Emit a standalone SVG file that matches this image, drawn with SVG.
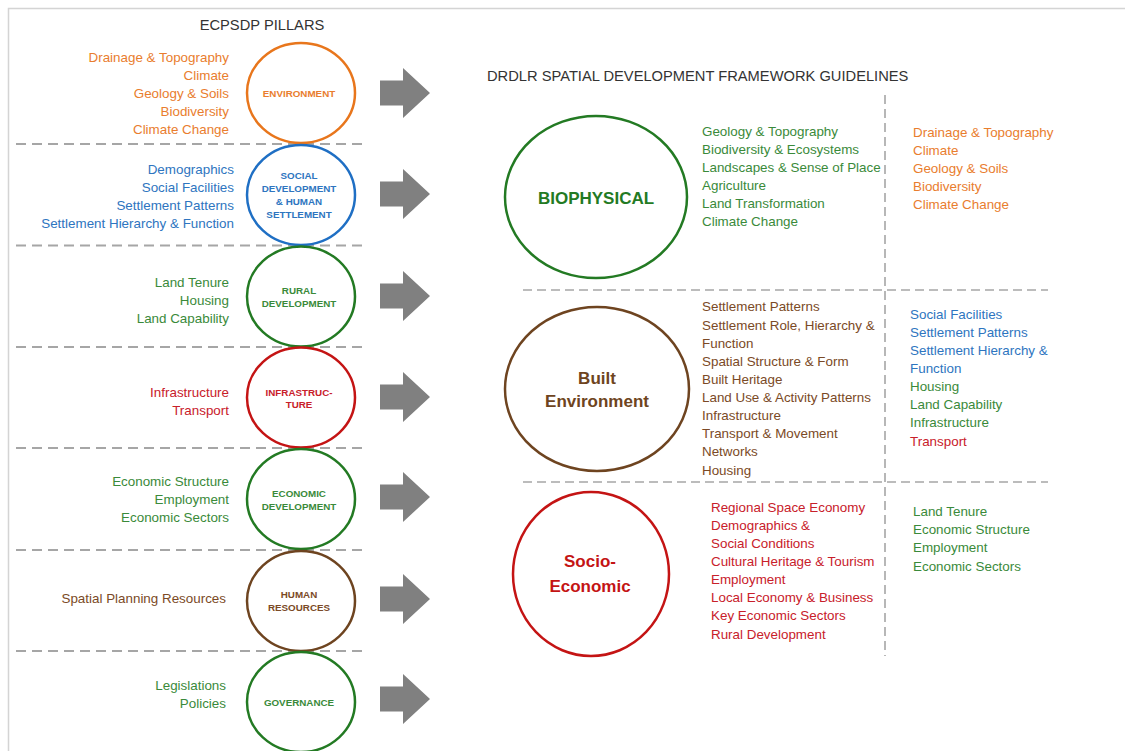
<svg xmlns="http://www.w3.org/2000/svg" width="1125" height="751" viewBox="0 0 1125 751">
  <defs>
    <style>
      text { font-family: "Liberation Sans", Arial, sans-serif; }
      .item { font-size: 13.4px; }
      .r { text-anchor: end; }
      .pill { font-size: 9.8px; font-weight: bold; text-anchor: middle; }
      .big { font-size: 17px; font-weight: bold; text-anchor: middle; }
      .head { font-size: 14.7px; fill: #333333; }
      .ring { fill: none; stroke-width: 2.5; }
      .sep { stroke: #a6a6a6; stroke-width: 2; stroke-dasharray: 10 6; fill: none; }
      .sep2 { stroke: #a6a6a6; stroke-width: 1.6; stroke-dasharray: 9 5; fill: none; }
      .arrow { fill: #808080; }
      .or { fill: #e97d2e; } .orS { stroke: #e8761c; }
      .bl { fill: #2e75c0; } .blS { stroke: #1f6fc4; }
      .gr { fill: #3a8a3a; } .grS { stroke: #237a23; }
      .rd { fill: #c8202a; } .rdS { stroke: #c41414; }
      .br { fill: #7b4a26; } .brS { stroke: #6e4420; }
    </style>
    <path id="bigArrow" d="M0,-12.5 H23 V-25 L50,0 L23,25 V12.5 H0 Z"/>
  </defs>

  <rect x="0" y="0" width="1125" height="751" fill="#ffffff"/>
  <!-- frame -->
  <path d="M8.5,751 V8.5 H1125" fill="none" stroke="#d4d4d4" stroke-width="1.5"/>

  <!-- headings -->
  <text class="head" x="262" y="30" text-anchor="middle" font-size="15.6">ECPSDP PILLARS</text>
  <text class="head" x="487" y="81">DRDLR SPATIAL DEVELOPMENT FRAMEWORK GUIDELINES</text>

  <!-- separators -->
  <g id="separators">
    <line class="sep" x1="16" y1="144" x2="363" y2="144"/>
    <line class="sep" x1="16" y1="245.5" x2="363" y2="245.5"/>
    <line class="sep" x1="16" y1="347" x2="363" y2="347"/>
    <line class="sep" x1="16" y1="448" x2="363" y2="448"/>
    <line class="sep" x1="16" y1="550" x2="363" y2="550"/>
    <line class="sep" x1="16" y1="651" x2="363" y2="651"/>
    <line class="sep2" x1="885" y1="95" x2="885" y2="656"/>
    <line class="sep2" x1="523" y1="290" x2="1048" y2="290"/>
    <line class="sep2" x1="523" y1="482" x2="1048" y2="482"/>
  </g>

  <!-- pillar nodes -->
  <g id="environment">
    <ellipse class="ring orS" cx="301" cy="93" rx="54" ry="50"/>
    <text class="pill or" x="299" y="96.5">ENVIRONMENT</text>
    <g class="item or r">
      <text x="229" y="62">Drainage &amp; Topography</text>
      <text x="229" y="80">Climate</text>
      <text x="229" y="98">Geology &amp; Soils</text>
      <text x="229" y="116">Biodiversity</text>
      <text x="229" y="134">Climate Change</text>
    </g>
  </g>

  <g id="social">
    <ellipse class="ring blS" cx="301" cy="195" rx="54" ry="50"/>
    <g class="pill bl">
      <text x="299" y="178.5">SOCIAL</text>
      <text x="299" y="191.5">DEVELOPMENT</text>
      <text x="299" y="204.5">&amp; HUMAN</text>
      <text x="299" y="217.5">SETTLEMENT</text>
    </g>
    <g class="item bl r">
      <text x="234" y="174">Demographics</text>
      <text x="234" y="192">Social Facilities</text>
      <text x="234" y="210">Settlement Patterns</text>
      <text x="234" y="228">Settlement Hierarchy &amp; Function</text>
    </g>
  </g>

  <g id="rural">
    <ellipse class="ring grS" cx="301" cy="296.5" rx="54" ry="50"/>
    <g class="pill gr">
      <text x="299" y="293.5">RURAL</text>
      <text x="299" y="306.5">DEVELOPMENT</text>
    </g>
    <g class="item gr r">
      <text x="229" y="287">Land Tenure</text>
      <text x="229" y="305">Housing</text>
      <text x="229" y="323">Land Capability</text>
    </g>
  </g>

  <g id="infrastructure">
    <ellipse class="ring rdS" cx="301" cy="397.5" rx="54" ry="50"/>
    <g class="pill rd">
      <text x="299" y="395.5">INFRASTRUC-</text>
      <text x="299" y="408">TURE</text>
    </g>
    <g class="item rd r">
      <text x="229" y="397">Infrastructure</text>
      <text x="229" y="415">Transport</text>
    </g>
  </g>

  <g id="economic">
    <ellipse class="ring grS" cx="301" cy="499" rx="54" ry="50"/>
    <g class="pill gr">
      <text x="299" y="496.5">ECONOMIC</text>
      <text x="299" y="509.5">DEVELOPMENT</text>
    </g>
    <g class="item gr r">
      <text x="229" y="486">Economic Structure</text>
      <text x="229" y="504">Employment</text>
      <text x="229" y="522">Economic Sectors</text>
    </g>
  </g>

  <g id="human">
    <ellipse class="ring brS" cx="301" cy="601" rx="54" ry="50"/>
    <g class="pill br">
      <text x="299" y="597.5">HUMAN</text>
      <text x="299" y="610.5">RESOURCES</text>
    </g>
    <text class="item br r" x="226" y="603">Spatial Planning Resources</text>
  </g>

  <g id="governance">
    <ellipse class="ring grS" cx="301" cy="702" rx="54" ry="50"/>
    <text class="pill gr" x="299" y="705.5">GOVERNANCE</text>
    <g class="item gr r">
      <text x="226" y="690">Legislations</text>
      <text x="226" y="708">Policies</text>
    </g>
  </g>

  <!-- connectors: block arrows -->
  <g id="connectors" class="arrow">
    <use href="#bigArrow" x="380" y="93"/>
    <use href="#bigArrow" x="380" y="194"/>
    <use href="#bigArrow" x="380" y="296"/>
    <use href="#bigArrow" x="380" y="397"/>
    <use href="#bigArrow" x="380" y="497"/>
    <use href="#bigArrow" x="380" y="599"/>
    <use href="#bigArrow" x="380" y="699"/>
  </g>

  <!-- framework nodes -->
  <g id="biophysical">
    <ellipse class="ring grS" cx="596" cy="197" rx="91" ry="81"/>
    <text class="big" x="596" y="204" fill="#237a23">BIOPHYSICAL</text>
    <g class="item gr">
      <text x="702" y="136">Geology &amp; Topography</text>
      <text x="702" y="154">Biodiversity &amp; Ecosystems</text>
      <text x="702" y="172">Landscapes &amp; Sense of Place</text>
      <text x="702" y="190">Agriculture</text>
      <text x="702" y="208">Land Transformation</text>
      <text x="702" y="226">Climate Change</text>
    </g>
    <g class="item or">
      <text x="913" y="137">Drainage &amp; Topography</text>
      <text x="913" y="155">Climate</text>
      <text x="913" y="173">Geology &amp; Soils</text>
      <text x="913" y="191">Biodiversity</text>
      <text x="913" y="209">Climate Change</text>
    </g>
  </g>

  <g id="built-environment">
    <ellipse class="ring brS" cx="597" cy="389" rx="92" ry="82"/>
    <g class="big" fill="#6e4420">
      <text x="597" y="384">Built</text>
      <text x="597" y="407">Environment</text>
    </g>
    <g class="item br">
      <text x="702" y="311">Settlement Patterns</text>
      <text x="702" y="330">Settlement Role, Hierarchy &amp;</text>
      <text x="702" y="348">Function</text>
      <text x="702" y="366">Spatial Structure &amp; Form</text>
      <text x="702" y="384">Built Heritage</text>
      <text x="702" y="402">Land Use &amp; Activity Patterns</text>
      <text x="702" y="420">Infrastructure</text>
      <text x="702" y="438">Transport &amp; Movement</text>
      <text x="702" y="456">Networks</text>
      <text x="702" y="475">Housing</text>
    </g>
    <g class="item">
      <text class="bl" x="910" y="319">Social Facilities</text>
      <text class="bl" x="910" y="337">Settlement Patterns</text>
      <text class="bl" x="910" y="355">Settlement Hierarchy &amp;</text>
      <text class="bl" x="910" y="373">Function</text>
      <text class="gr" x="910" y="391">Housing</text>
      <text class="gr" x="910" y="409">Land Capability</text>
      <text class="gr" x="910" y="427">Infrastructure</text>
      <text class="rd" x="910" y="446">Transport</text>
    </g>
  </g>

  <g id="socio-economic">
    <ellipse class="ring rdS" cx="591" cy="574" rx="78" ry="82"/>
    <g class="big" fill="#c41414">
      <text x="590" y="567">Socio-</text>
      <text x="590" y="592">Economic</text>
    </g>
    <g class="item rd">
      <text x="711" y="512">Regional Space Economy</text>
      <text x="711" y="530">Demographics &amp;</text>
      <text x="711" y="548">Social Conditions</text>
      <text x="711" y="566">Cultural Heritage &amp; Tourism</text>
      <text x="711" y="584">Employment</text>
      <text x="711" y="602">Local Economy &amp; Business</text>
      <text x="711" y="620">Key Economic Sectors</text>
      <text x="711" y="639">Rural Development</text>
    </g>
    <g class="item gr">
      <text x="913" y="516">Land Tenure</text>
      <text x="913" y="534">Economic Structure</text>
      <text x="913" y="552">Employment</text>
      <text x="913" y="571">Economic Sectors</text>
    </g>
  </g>
</svg>
